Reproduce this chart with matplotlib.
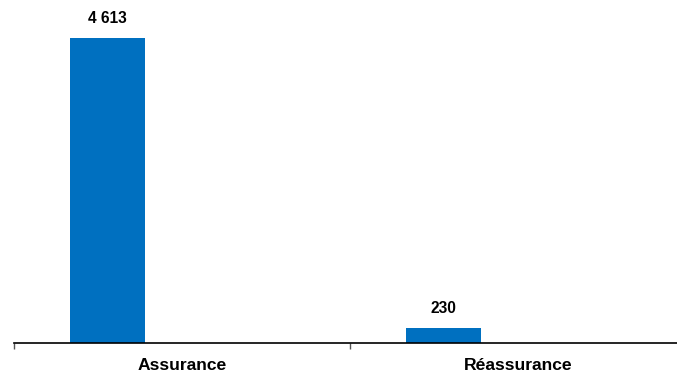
import matplotlib.pyplot as plt

categories = ['Assurance', 'Réassurance']
values = [4613, 230]
value_labels = ['4 613', '230']

plt.rcParams['font.family'] = ['Liberation Sans', 'DejaVu Sans']

fig = plt.figure(figsize=(6.77, 3.78), dpi=100)
# axes run slightly past the right edge so the baseline reaches the border
ax = fig.add_axes([14 / 677, 35 / 378, 672 / 677, 330.6 / 378])

bar_w = 0.223
centers = [i + 0.5 for i in range(len(categories))]
pos = [c - bar_w for c in centers]
bars = ax.bar(pos, values, width=bar_w, color='#0070c0')

for b, lab in zip(bars, value_labels):
    ax.annotate(lab, (b.get_x() + b.get_width() / 2, b.get_height()),
                xytext=(0, 10.8), textcoords='offset points',
                ha='center', va='baseline', fontsize=11.2, fontweight='bold')

ax.set_xlim(0, len(categories))
ax.set_ylim(0, 5000)

ax.set_xticks(centers)
ax.set_xticklabels(categories, fontsize=12.6, fontweight='bold')
ax.tick_params(axis='x', which='major', length=0, pad=11)
ax.set_xticks(range(len(categories) + 1), minor=True)
ax.tick_params(axis='x', which='minor', length=4, color='#555555', width=1)
ax.set_yticks([])

for s in ['top', 'right', 'left']:
    ax.spines[s].set_visible(False)
ax.spines['bottom'].set_linewidth(1.2)

fig.savefig('out.png', dpi=100)
